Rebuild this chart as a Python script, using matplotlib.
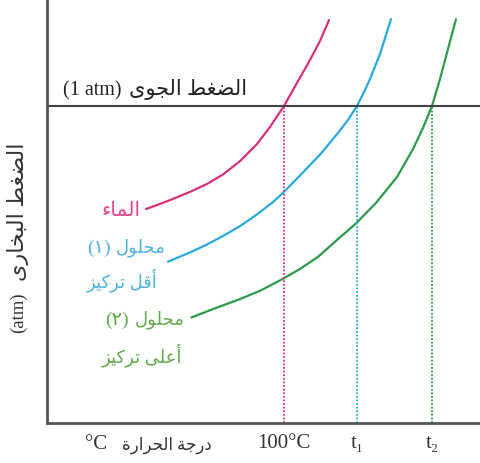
import matplotlib
matplotlib.use("Agg")
import matplotlib.pyplot as plt

# --- tiny arabic shaper (no arabic_reshaper available) ---
# letter: first presentation form code, number of forms (2 = joins right only, 4 = dual)
FORMS = {
    'ء': (0xFE80, 1), 'أ': (0xFE83, 2), 'ا': (0xFE8D, 2), 'ب': (0xFE8F, 4),
    'ة': (0xFE93, 2), 'ت': (0xFE95, 4), 'ج': (0xFE9D, 4), 'ح': (0xFEA1, 4),
    'خ': (0xFEA5, 4), 'د': (0xFEA9, 2), 'ر': (0xFEAD, 2), 'ز': (0xFEAF, 2),
    'ض': (0xFEBD, 4), 'ط': (0xFEC1, 4), 'ع': (0xFEC9, 4), 'غ': (0xFECD, 4),
    'ق': (0xFED5, 4), 'ك': (0xFED9, 4), 'ل': (0xFEDD, 4), 'م': (0xFEE1, 4),
    'و': (0xFEED, 2), 'ى': (0xFEEF, 2), 'ي': (0xFEF1, 4),
}


def ar(s):
    out = []
    for i, c in enumerate(s):
        if c not in FORMS:
            out.append(c)
            continue
        base, n = FORMS[c]
        prev = s[i - 1] if i > 0 else ''
        nxt = s[i + 1] if i + 1 < len(s) else ''
        join_prev = prev in FORMS and FORMS[prev][1] == 4 and n > 1
        join_next = n == 4 and nxt in FORMS and FORMS[nxt][1] > 1
        if join_prev and join_next:
            k = 3
        elif join_next:
            k = 2
        elif join_prev:
            k = 1
        else:
            k = 0
        out.append(chr(base + k))
    return ''.join(out)[::-1]


# --- data (temperature in arbitrary units, pressure in atm) ---
water_t = [72.4, 75.2, 77.8, 81.2, 84.6, 87.8, 91.2, 94.6, 97.2, 100.0,
           102.6, 105.2, 107.2, 109.0]
water_p = [0.675, 0.691, 0.707, 0.729, 0.754, 0.784, 0.826, 0.880, 0.934, 1.0,
           1.073, 1.145, 1.205, 1.271]

sol1_t = [76.8, 81.2, 84.6, 87.8, 91.2, 94.6, 97.8, 99.8, 103.4, 107.4,
          110.8, 112.8, 114.6, 116.0, 117.2, 119.2, 121.4]
sol1_p = [0.509, 0.538, 0.563, 0.590, 0.621, 0.658, 0.697, 0.726, 0.784, 0.850,
          0.915, 0.956, 1.0, 1.044, 1.085, 1.164, 1.274]

sol2_t = [81.5, 85.9, 91.2, 95.2, 99.7, 103.2, 106.8, 110.5, 114.5, 118.5,
          122.6, 125.8, 127.8, 129.6, 131.2, 132.8, 134.4]
sol2_p = [0.333, 0.360, 0.391, 0.417, 0.454, 0.486, 0.524, 0.576, 0.631, 0.696,
          0.776, 0.864, 0.931, 1.0, 1.085, 1.180, 1.274]

boil_t = [100.0, 114.6, 129.6]
boil_labels = ['100°C', 't₁', 't₂']
atm = 1.0

line_cols = ['#d8307c', '#29a9df', '#2c9a4c']
text_cols = ['#e0448e', '#4fb3e0', '#62a94a']

serif = ['Liberation Serif', 'DejaVu Sans']

W, H = 481, 464
fig = plt.figure(figsize=(W / 100, H / 100), dpi=100)
ax = fig.add_axes([47 / W, 40 / H, 434 / W, 424 / H])
ax.set_xlim(52.6, 139.4)
ax.set_ylim(0, 1.3375)

for t, p, c in zip([water_t, sol1_t, sol2_t], [water_p, sol1_p, sol2_p], line_cols):
    ax.plot(t, p, color=c, lw=1.6, solid_capstyle='round', solid_joinstyle='round')

ax.axhline(atm, color='#444444', lw=1.5)
for t, c in zip(boil_t, line_cols):
    ax.plot([t, t], [0, atm], color=c, lw=1.3, ls=(0, (1, 1)))

for s in ['top', 'right']:
    ax.spines[s].set_visible(False)
for s in ['left', 'bottom']:
    ax.spines[s].set_color('#555555')
    ax.spines[s].set_linewidth(2)

ax.set_yticks([])
ax.set_xticks(boil_t)
ax.set_xticklabels(boil_labels, family=serif, fontsize=15, color='#333333')
ax.tick_params(axis='x', length=0, pad=7)


def txt(x, y, s, **kw):
    # place text by pixel position (from top-left)
    kw.setdefault('va', 'center')
    kw.setdefault('family', serif)
    fig.text(x / W, 1 - y / H, s, **kw)


# x label
txt(96, 445, '°C', fontsize=15, color='#333333', ha='center')
txt(212, 445, ar('درجة الحرارة'), fontsize=12, color='#333333', ha='right')

# atmospheric pressure label
txt(63, 91, '(1 atm)', fontsize=14.5, color='#222222', ha='left')
txt(247, 90, ar('الضغط الجوى'), fontsize=15, color='#222222', ha='right')

# y label
txt(18, 313, '(atm)', fontsize=13.5, color='#333333', ha='center', rotation=90)
txt(18, 212, ar('الضغط البخارى'), fontsize=16, color='#333333', ha='center',
    rotation=90)

# curve labels
txt(140, 212, ar('الماء'), fontsize=14.5, color=text_cols[0], ha='right')
txt(166, 248, ar('محلول'), fontsize=13, color=text_cols[1], ha='right')
txt(111, 248, '(١)', fontsize=14, color=text_cols[1], ha='right')
txt(157, 280, ar('أقل تركيز'), fontsize=13, color=text_cols[1], ha='right')
txt(185, 320, ar('محلول'), fontsize=13, color=text_cols[2], ha='right')
txt(129, 320, '(٢)', fontsize=14, color=text_cols[2], ha='right')
txt(182, 355, ar('أعلى تركيز'), fontsize=13, color=text_cols[2], ha='right')

fig.savefig('out.png', dpi=100)
